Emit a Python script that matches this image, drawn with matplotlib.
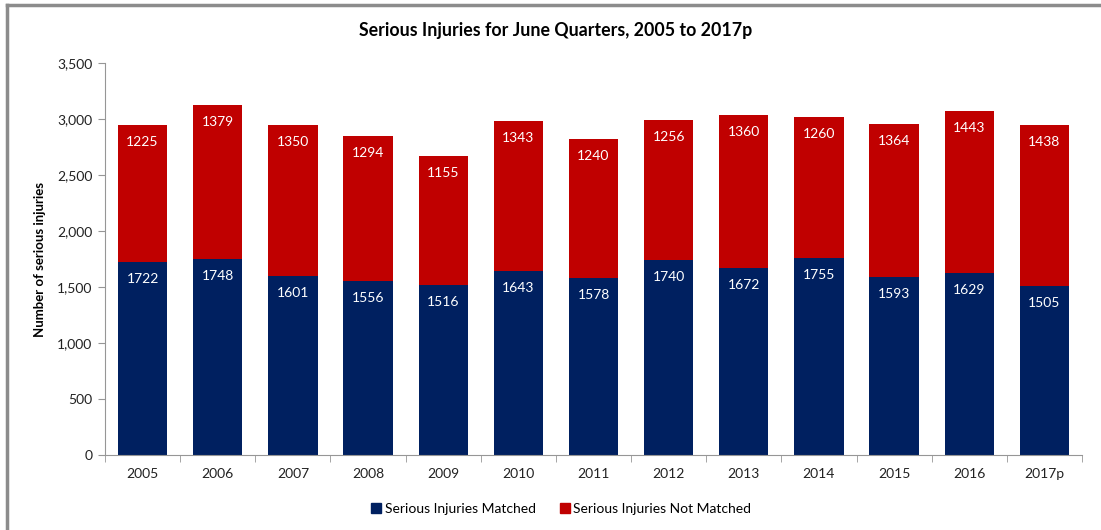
import matplotlib.pyplot as plt
from matplotlib.lines import Line2D
from matplotlib.ticker import FuncFormatter, FixedLocator

plt.rcParams['font.family'] = ['Lato', 'DejaVu Sans']

years = ['2005', '2006', '2007', '2008', '2009', '2010', '2011',
         '2012', '2013', '2014', '2015', '2016', '2017p']
matched = [1722, 1748, 1601, 1556, 1516, 1643, 1578,
           1740, 1672, 1755, 1593, 1629, 1505]
not_matched = [1225, 1379, 1350, 1294, 1155, 1343, 1240,
               1256, 1360, 1260, 1364, 1443, 1438]

NAVY = '#002060'
RED = '#C00000'
GRAY = '#969696'

fig = plt.figure(figsize=(11.01, 5.30), dpi=100)
ax = fig.add_axes([0.0954, 0.1415, 0.8873, 0.7395])

x = list(range(len(years)))
b1 = ax.bar(x, matched, width=0.655, color=NAVY, label='Serious Injuries Matched')
b2 = ax.bar(x, not_matched, width=0.655, bottom=matched, color=RED,
            label='Serious Injuries Not Matched')

for i in x:
    ax.annotate(str(matched[i]), (i, matched[i]), xytext=(0, -17),
                textcoords='offset pixels', ha='center', va='center',
                color='white', fontsize=10)
    top = matched[i] + not_matched[i]
    ax.annotate(str(not_matched[i]), (i, top), xytext=(0, -17),
                textcoords='offset pixels', ha='center', va='center',
                color='white', fontsize=10)

ax.set_xlim(-0.5, len(years) - 0.5)
ax.set_ylim(0, 3500)
ax.set_yticks(range(0, 3501, 500))
ax.yaxis.set_major_formatter(FuncFormatter(lambda v, p: f'{int(v):,}'))
ax.set_xticks(x)
ax.set_xticklabels(years)
ax.xaxis.set_minor_locator(FixedLocator([i - 0.5 for i in range(len(years) + 1)]))
ax.tick_params(axis='x', which='major', length=0, pad=9, labelsize=10, colors='#222222')
ax.tick_params(axis='x', which='minor', length=5, color=GRAY, direction='out')
ax.tick_params(axis='y', length=5, color=GRAY, labelsize=10, labelcolor='#222222', pad=4)

for s in ['top', 'right']:
    ax.spines[s].set_visible(False)
for s in ['left', 'bottom']:
    ax.spines[s].set_color(GRAY)

ax.set_ylabel('Number of serious injuries', fontsize=9.5, fontweight='bold', labelpad=8)
fig.text(0.505, 0.943, 'Serious Injuries for June Quarters, 2005 to 2017p',
         ha='center', va='center', fontsize=12.8, fontweight='bold')

handles = [Line2D([], [], marker='s', ls='', color=NAVY, markersize=7),
           Line2D([], [], marker='s', ls='', color=RED, markersize=7)]
fig.legend(handles, ['Serious Injuries Matched', 'Serious Injuries Not Matched'],
           loc='center', bbox_to_anchor=(0.509, 0.040), ncol=2, frameon=False,
           fontsize=10, handletextpad=0.1, columnspacing=1.6, handlelength=1)

# chart border (top and left visible)
fig.add_artist(Line2D([0.0064, 1.0], [0.99, 0.99], color='#8c8c8c', lw=2.5,
                      transform=fig.transFigure))
fig.add_artist(Line2D([0.0064, 0.0064], [0.0, 0.99], color='#8c8c8c', lw=2.5,
                      transform=fig.transFigure))

fig.savefig('out.png', dpi=100)
